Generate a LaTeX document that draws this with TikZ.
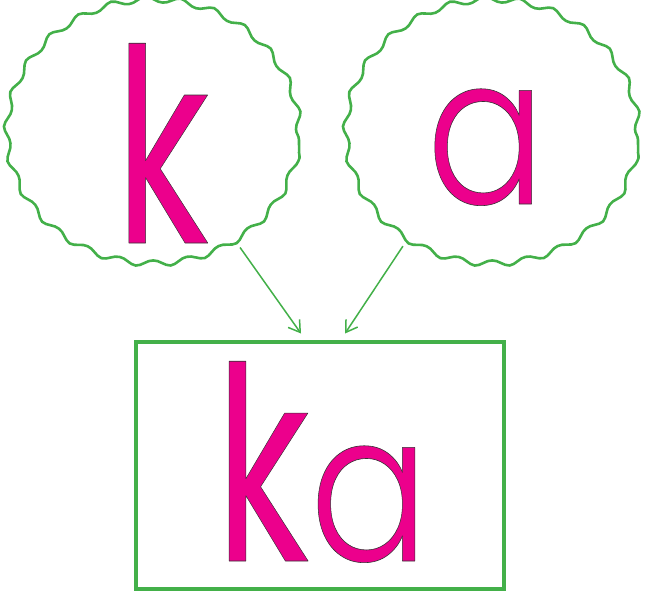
\documentclass[tikz,border=0pt]{standalone}
\usepackage{fontspec}
\newfontfamily\kfont{Poppins}
\newfontfamily\afont{Poppins Light}
\usetikzlibrary{shapes.geometric, decorations.pathmorphing, arrows.meta}
\definecolor{leafgreen}{RGB}{67,176,73}
\definecolor{inkpink}{RGB}{236,0,140}
% filled letters with a thin dark outline
\newcommand\inked[1]{{\color{inkpink}\special{pdf:literal direct 2 Tr 0.6 w 1 j 0.2 0.2 0.2 RG}#1\special{pdf:literal direct 0 Tr}}}
\newcommand\bigk{\scalebox{0.68}[1]{\fontsize{270}{280}\kfont\inked{k}}}
\newcommand\biga{\scalebox{0.85}[1]{\fontsize{208}{220}\afont\inked{a}}}

\begin{document}
\begin{tikzpicture}[x=1pt, y=-1pt,
  bubble/.style={ellipse, draw=leafgreen, line width=2.6pt, minimum width=292pt,
    minimum height=264pt, decorate,
    decoration={snake, amplitude=3pt, segment length=34.4pt}},
  letter/.style={inner sep=0pt, anchor=base},
  link/.style={draw=leafgreen, line width=1.5pt, -{Straight Barb[length=11pt, width=14pt]}}]
  \useasboundingbox (0,0) rectangle (645,591);
  \node[bubble] (kbub) at (153,140) {};
  \node[bubble] (abub) at (492,140) {};
  \node[draw=leafgreen, line width=4pt, minimum width=368pt, minimum height=247pt]
    (word) at (320,465) {};
  \node[letter] (klet) at (162,243) {\bigk};
  \node[letter] (alet) at (486,204) {\biga};
  \node[letter] (kalet) at (322,561) {\bigk\biga};
  \draw[link] (kbub.-51) -- ([xshift=-19pt, yshift=6pt]word.north);
  \draw[link] (abub.-130) -- ([xshift=25pt, yshift=6pt]word.north);
\end{tikzpicture}
\end{document}
